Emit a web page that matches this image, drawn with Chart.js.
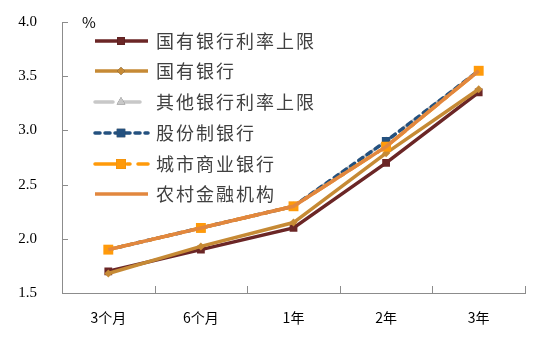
<!DOCTYPE html>
<html>
<head>
<meta charset="utf-8">
<script src="https://cdn.jsdelivr.net/npm/chart.js@4"></script>
<style>
  html, body { margin: 0; padding: 0; background: #fff; }
  #wrap { width: 537px; height: 347px; position: relative; }
</style>
</head>
<body>
<div id="wrap"><canvas id="grafico"></canvas></div>
<script>
// datos del gráfico
const categorias = ['3个月', '6个月', '1年', '2年', '3年'];
const nombresSeries = ['国有银行利率上限', '国有银行', '其他银行利率上限', '股份制银行', '城市商业银行', '农村金融机构'];
const bancosEstatalesTope = [1.70, 1.90, 2.10, 2.70, 3.35];
const bancosEstatales = [1.68, 1.93, 2.15, 2.79, 3.38];
const otrosBancosTope = [1.90, 2.10, 2.30, 2.90, 3.55];
const bancosAcciones = [1.90, 2.10, 2.30, 2.90, 3.55];
const bancosCiudad = [1.90, 2.10, 2.30, 2.85, 3.55];
const finanzasRurales = [1.90, 2.10, 2.30, 2.85, 3.55];
const ticksY = [1.5, 2.0, 2.5, 3.0, 3.5, 4.0];

const fuente = "'Noto Sans CJK SC', sans-serif";

const estilos = [
  { color: '#6B2626', dash: [], punto: 'rect', radio: 5.5 },
  { color: '#C68A35', dash: [], punto: 'rectRot', radio: 4 },
  { color: '#C8C8C8', dash: [18, 9], punto: 'triangle', radio: 5 },
  { color: '#24517F', dash: [5, 5], punto: 'rect', radio: 6 },
  { color: '#FF9A0A', dash: [24, 8, 3, 8], punto: 'rect', radio: 7 },
  { color: '#E2873E', dash: [], punto: false, radio: 0 }
];
const valores = [bancosEstatalesTope, bancosEstatales, otrosBancosTope, bancosAcciones, bancosCiudad, finanzasRurales];

let datasets = [];
valores.forEach(function (serie, i) {
  let e = estilos[i];
  datasets.push({
    label: nombresSeries[i],
    data: serie,
    borderColor: e.color,
    backgroundColor: e.color,
    borderWidth: 3.5,
    borderDash: e.dash,
    borderCapStyle: e.dash.length ? 'round' : 'butt',
    pointStyle: e.punto,
    pointRadius: e.radio,
    pointBorderWidth: 0,
    pointBackgroundColor: e.color,
    tension: 0,
    order: 6 - i
  });
});

// leyenda y marcas interiores dibujadas a mano
const extras = {
  id: 'extras',
  afterDraw(chart) {
    const ctx = chart.ctx;
    const area = chart.chartArea;
    const y = chart.scales.y;
    ctx.save();
    ctx.strokeStyle = '#8C8C8C';
    ctx.lineWidth = 1;
    // marcas del eje y hacia adentro
    ticksY.forEach(function (v) {
      let py = Math.round(y.getPixelForValue(v)) + 0.5;
      ctx.beginPath();
      ctx.moveTo(area.left, py);
      ctx.lineTo(area.left + 6, py);
      ctx.stroke();
    });
    // marcas del eje x entre categorías
    for (let i = 1; i <= categorias.length; i++) {
      let px = Math.round(area.left + (area.right - area.left) * i / categorias.length) + 0.5;
      ctx.beginPath();
      ctx.moveTo(px, area.bottom);
      ctx.lineTo(px, area.bottom - 7);
      ctx.stroke();
    }
    // unidad
    ctx.fillStyle = '#000';
    ctx.font = '15px ' + fuente;
    ctx.textBaseline = 'middle';
    ctx.fillText('%', 82, 22);

    // leyenda
    const filas = [41, 71, 102, 133, 164, 194];
    chart.data.datasets.forEach(function (ds, i) {
      let fy = filas[i];
      let e = estilos[i];
      ctx.strokeStyle = e.color;
      ctx.lineWidth = 3.5;
      ctx.setLineDash(e.dash);
      ctx.lineCap = e.dash.length ? 'round' : 'butt';
      ctx.beginPath();
      ctx.moveTo(95, fy);
      ctx.lineTo(148, fy);
      ctx.stroke();
      ctx.setLineDash([]);
      if (e.punto) {
        Chart.helpers.drawPoint(ctx, { pointStyle: e.punto, radius: e.radio, borderWidth: 0 }, 121, fy);
        ctx.fillStyle = e.color;
        ctx.fill();
      }
      ctx.fillStyle = '#404040';
      ctx.font = '18px ' + fuente;
      ctx.letterSpacing = '2px';
      ctx.textBaseline = 'middle';
      ctx.fillText(ds.label, 156, fy);
      ctx.letterSpacing = '0px';
    });
    ctx.restore();
  }
};

const ctx = document.getElementById('grafico');
new Chart(ctx, {
  type: 'line',
  data: { labels: categorias, datasets: datasets },
  options: {
    responsive: true,
    maintainAspectRatio: false,
    animation: false,
    layout: { padding: { top: 22, right: 12, left: 0, bottom: 0 } },
    plugins: { legend: { display: false }, tooltip: { enabled: false } },
    scales: {
      x: {
        offset: true,
        grid: { display: false, drawTicks: false },
        border: { color: '#8C8C8C', width: 1 },
        ticks: { color: '#000', font: { family: fuente, size: 14 }, padding: 16, maxRotation: 0 },
        afterFit: function (scale) {
          scale.height = 54;
          scale.paddingLeft = 0;
          scale.paddingRight = 0;
        }
      },
      y: {
        min: 1.5,
        max: 4.0,
        afterBuildTicks: function (scale) { scale.ticks = ticksY.map(v => ({ value: v })); },
        grid: { display: false, drawTicks: false },
        border: { color: '#8C8C8C', width: 1 },
        ticks: {
          color: '#000',
          font: { family: "'Liberation Serif', serif", size: 15 },
          padding: 25,
          callback: v => v.toFixed(1)
        },
        afterFit: function (scale) {
          scale.width = 62;
          scale.paddingTop = 0;
          scale.paddingBottom = 0;
        }
      }
    }
  },
  plugins: [extras]
});
</script>
</body>
</html>
